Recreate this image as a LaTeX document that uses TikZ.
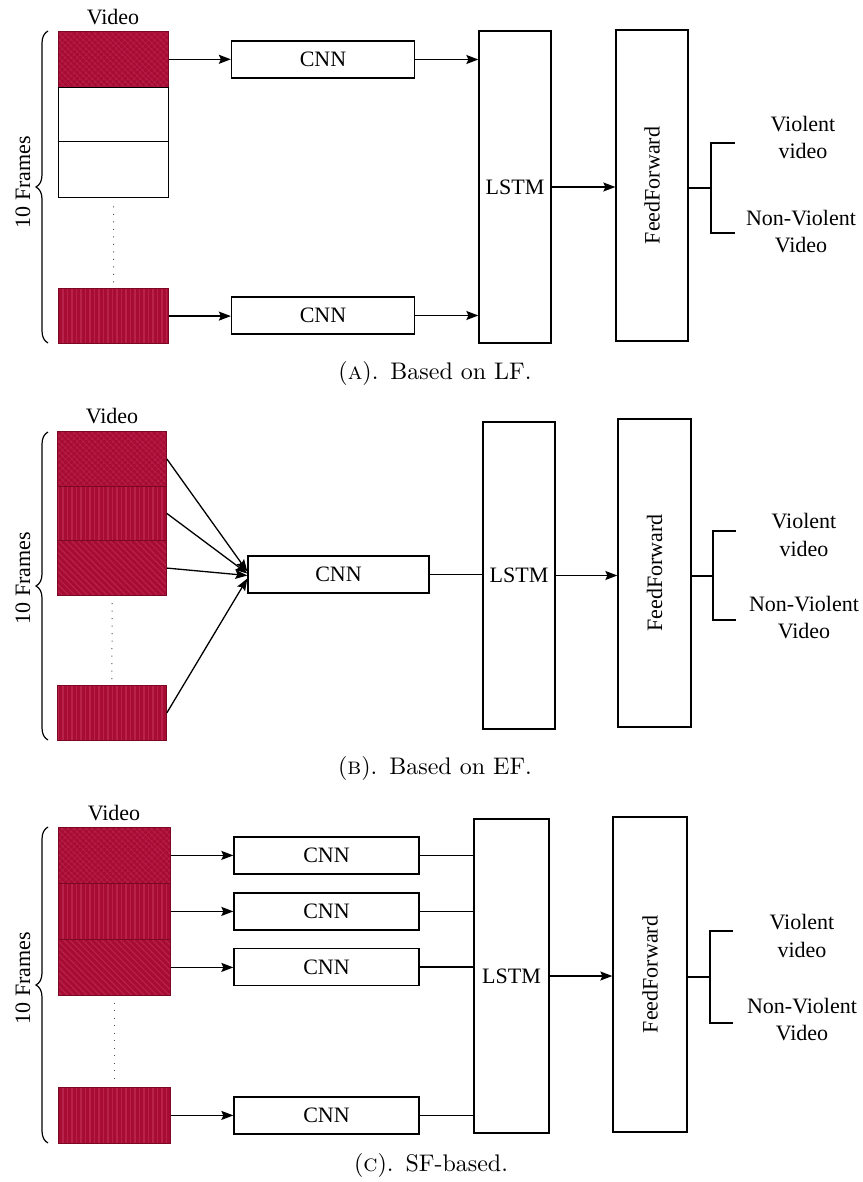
\documentclass[tikz,border=0pt]{standalone}
\usepackage{fontspec}
\newfontfamily\tnr{Liberation Serif}
\usetikzlibrary{arrows.meta,patterns.meta,decorations.pathreplacing}
\definecolor{frameRed}{RGB}{166,12,52}
\definecolor{frameLight}{RGB}{184,34,74}
\definecolor{frameDark}{RGB}{125,8,35}
\begin{document}
\begin{tikzpicture}[x=1pt,y=-1pt,
  txt/.style={font=\tnr\fontsize{22}{27.5}\selectfont, align=center, inner sep=0pt},
  box/.style={draw=black, line width=1.3pt, fill=white, inner sep=0pt},
  captxt/.style={inner sep=0pt},
  arr/.style={-{Stealth[length=12pt,width=9pt,inset=2pt]}, line width=1.3pt},
  ln/.style={line width=1.3pt},
  brc/.style={decorate, decoration={brace, amplitude=12pt}, line width=1.2pt},
  dotl/.style={line width=1pt, dash pattern=on 1pt off 6.5pt, black!70},
  rframe/.style={draw=frameDark, line width=0.8pt, preaction={fill=frameRed}, pattern color=frameLight, inner sep=0pt, anchor=north west},
  wframe/.style={draw=black, line width=1.3pt, fill=white, inner sep=0pt, anchor=north west},
  pdot/.style={pattern={Hatch[angle=45,distance=4pt,line width=0.6pt]}},
  pvert/.style={pattern={Lines[angle=90,distance=4.5pt,line width=1.2pt]}},
  pdiag/.style={pattern={Lines[angle=-45,distance=4.5pt,line width=1.2pt]}}
]
\useasboundingbox (0,0) rectangle (862,1182);
\newcommand{\captext}[1]{\scalebox{2.4}{\fontsize{10}{12}\selectfont #1}}

% ================= Panel A =================
\node[txt] (vidA) at (113,17) {Video};
\node[rframe,pdot,minimum width=110pt,minimum height=56pt] (fA1) at (58,31) {};
\node[wframe,minimum width=110pt,minimum height=54pt] (fA2) at (58,87) {};
\node[wframe,minimum width=110pt,minimum height=56pt] (fA3) at (58,141) {};
\node[rframe,pvert,minimum width=110pt,minimum height=55pt] (fA4) at (58,288) {};
\draw[dotl] ([yshift=-8pt]fA3.south) -- ([yshift=4pt]fA4.north);
\coordinate (bAb) at (48,343);
\coordinate (bAt) at (48,31);
\draw[brc] (bAb) -- (bAt);
\node[txt,rotate=90] (frA) at (23,182) {10 Frames};

\node[box,txt,minimum width=183pt,minimum height=37pt] (cA1) at (323,59.5) {CNN};
\node[box,txt,minimum width=183pt,minimum height=37pt] (cA2) at (323,315.5) {CNN};
\node[box,txt,minimum width=72pt,minimum height=312pt] (lA) at (515,187) {LSTM};
\node[box,minimum width=72pt,minimum height=311pt] (ffA) at (652,185.5) {};
\node[txt,rotate=90] (ffAt) at (ffA.center) {FeedForward};

\draw[arr] (fA1.east) -- (fA1.east -| cA1.west);
\draw[arr] (fA4.east) -- (fA4.east -| cA2.west);
\draw[arr] (cA1.east) -- (cA1.east -| lA.west);
\draw[arr] (cA2.east) -- (cA2.east -| lA.west);
\draw[arr] (lA.east) -- (lA.east -| ffA.west);

\coordinate (oA) at (711,188);
\coordinate (oAt) at (735,143);
\coordinate (oAb) at (735,233);
\draw[ln] (ffA.east |- oA) -- (oA);
\draw[ln] (oAt) -- (oAt -| oA) -- (oAb -| oA) -- (oAb);
\node[txt] (vA) at (803,137.5) {Violent\\video};
\node[txt] (nA) at (801,231.5) {Non-Violent\\Video};

\node[captxt] (capA) at (435,373) {\captext{(\textsc{a}).\enspace Based on LF.}};

% ================= Panel B =================
\node[txt] (vidB) at (112,416) {Video};
\node[rframe,pdot,minimum width=109pt,minimum height=55pt] (fB1) at (57,431) {};
\node[rframe,pvert,minimum width=109pt,minimum height=54pt] (fB2) at (57,486) {};
\node[rframe,pdiag,minimum width=109pt,minimum height=55pt] (fB3) at (57,540) {};
\node[rframe,pvert,minimum width=109pt,minimum height=55pt] (fB4) at (57,685) {};
\draw[dotl] ([yshift=-7pt]fB3.south) -- ([yshift=3pt]fB4.north);
\coordinate (bBb) at (48,740);
\coordinate (bBt) at (48,432);
\draw[brc] (bBb) -- (bBt);
\node[txt,rotate=90] (frB) at (23,578) {10 Frames};

\node[box,txt,minimum width=181pt,minimum height=37pt] (cB) at (338.5,574.5) {CNN};
\node[box,txt,minimum width=72pt,minimum height=307pt] (lB) at (519,575.5) {LSTM};
\node[box,minimum width=73pt,minimum height=308pt] (ffB) at (654.5,573) {};
\node[txt,rotate=90] (ffBt) at (ffB.center) {FeedForward};

\draw[arr] (fB1.east) -- ([yshift=3pt]cB.west);
\draw[arr] (fB2.east) -- ([yshift=1pt]cB.west);
\draw[arr] (fB3.east) -- ([yshift=-1pt]cB.west);
\draw[arr] (fB4.east) -- ([yshift=-4pt]cB.west);
\draw[ln] (cB.east) -- (cB.east -| lB.west);
\draw[arr] (lB.east) -- (lB.east -| ffB.west);

\coordinate (oB) at (713,576);
\coordinate (oBt) at (736,531);
\coordinate (oBb) at (736,620);
\draw[ln] (ffB.east |- oB) -- (oB);
\draw[ln] (oBt) -- (oBt -| oB) -- (oBb -| oB) -- (oBb);
\node[txt] (vB) at (804,535) {Violent\\video};
\node[txt] (nB) at (804,617.5) {Non-Violent\\Video};

\node[captxt] (capB) at (435,768) {\captext{(\textsc{b}).\enspace Based on EF.}};

% ================= Panel C =================
\node[txt] (vidC) at (114,813) {Video};
\node[rframe,pdot,minimum width=112pt,minimum height=56pt] (fC1) at (58,827) {};
\node[rframe,pvert,minimum width=112pt,minimum height=56pt] (fC2) at (58,883) {};
\node[rframe,pdiag,minimum width=112pt,minimum height=56pt] (fC3) at (58,939) {};
\node[rframe,pvert,minimum width=112pt,minimum height=56pt] (fC4) at (58,1087) {};
\draw[dotl] ([yshift=-7pt]fC3.south) -- ([yshift=3pt]fC4.north);
\coordinate (bCb) at (48,1143);
\coordinate (bCt) at (48,827);
\draw[brc] (bCb) -- (bCt);
\node[txt,rotate=90] (frC) at (23,978) {10 Frames};

\node[box,txt,minimum width=185pt,minimum height=37pt] (cC1) at (326.5,855.5) {CNN};
\node[box,txt,minimum width=185pt,minimum height=37pt] (cC2) at (326.5,911.5) {CNN};
\node[box,txt,minimum width=185pt,minimum height=37pt] (cC3) at (326.5,967) {CNN};
\node[box,txt,minimum width=185pt,minimum height=37pt] (cC4) at (326.5,1115.5) {CNN};
\node[box,txt,minimum width=75pt,minimum height=314pt] (lC) at (511.5,976) {LSTM};
\node[box,minimum width=74pt,minimum height=315pt] (ffC) at (650,974.5) {};
\node[txt,rotate=90] (ffCt) at (ffC.center) {FeedForward};

\draw[arr] (fC1.east) -- (fC1.east -| cC1.west);
\draw[arr] (fC2.east) -- (fC2.east -| cC2.west);
\draw[arr] (fC3.east) -- (fC3.east -| cC3.west);
\draw[arr] (fC4.east) -- (fC4.east -| cC4.west);
\draw[ln] (cC1.east) -- (cC1.east -| lC.west);
\draw[ln] (cC2.east) -- (cC2.east -| lC.west);
\draw[ln] (cC3.east) -- (cC3.east -| lC.west);
\draw[ln] (cC4.east) -- (cC4.east -| lC.west);
\draw[arr] (lC.east) -- (lC.east -| ffC.west);

\coordinate (oC) at (710,977);
\coordinate (oCt) at (733,931);
\coordinate (oCb) at (733,1023);
\draw[ln] (ffC.east |- oC) -- (oC);
\draw[ln] (oCt) -- (oCt -| oC) -- (oCb -| oC) -- (oCb);
\node[txt] (vC) at (802,936) {Violent\\video};
\node[txt] (nC) at (802,1019.5) {Non-Violent\\Video};

\node[captxt] (capC) at (431,1165) {\captext{(\textsc{c}).\enspace SF-based.}};
\end{tikzpicture}
\end{document}
